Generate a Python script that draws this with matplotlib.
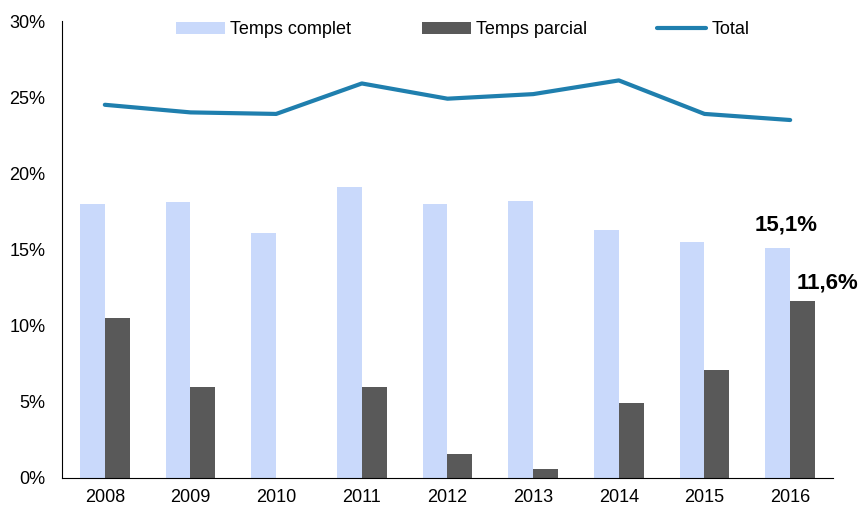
import matplotlib.pyplot as plt
import numpy as np
from matplotlib.ticker import FuncFormatter

plt.rcParams['font.family'] = ['Liberation Sans', 'DejaVu Sans']

years = ['2008', '2009', '2010', '2011', '2012', '2013', '2014', '2015', '2016']
complet = [18.0, 18.1, 16.1, 19.1, 18.0, 18.2, 16.3, 15.5, 15.1]
parcial = [10.5, 6.0, 0.0, 6.0, 1.6, 0.6, 4.9, 7.1, 11.6]
total = [24.5, 24.0, 23.9, 25.9, 24.9, 25.2, 26.1, 23.9, 23.5]

fig = plt.figure(figsize=(8.62, 5.07), dpi=100)
ax = fig.add_axes([62 / 862, 1 - 478 / 507, (833 - 62) / 862, (478 - 21) / 507])

x = np.arange(len(years))
w = 0.29
b1 = ax.bar(x - w / 2, complet, w, color='#c9d9fb', label='Temps complet')
b2 = ax.bar(x + w / 2, parcial, w, color='#595959', label='Temps parcial')
l1, = ax.plot(x, total, color='#1f7fae', lw=3, solid_capstyle='round', label='Total')

# etiquetas del ultimo año
ax.text(x[-1] - 0.05, complet[-1] + 1.5, '15,1%', ha='center', va='center',
        fontsize=16, fontweight='bold')
ax.text(x[-1] + 0.44, parcial[-1] + 1.2, '11,6%', ha='center', va='center',
        fontsize=16, fontweight='bold')

ax.set_xlim(-0.5, len(years) - 0.5)
ax.set_ylim(0, 30)
ax.set_yticks(range(0, 31, 5))
ax.yaxis.set_major_formatter(FuncFormatter(lambda v, p: f'{v:.0f}%'))
ax.set_xticks(x)
ax.set_xticklabels(years)
ax.tick_params(length=0, labelsize=13, pad=8)
ax.tick_params(axis='y', pad=12)
for s in ['top', 'right']:
    ax.spines[s].set_visible(False)

ax.legend(handles=[b1, b2, l1], loc='upper center', bbox_to_anchor=(0.52, 1.035),
          ncol=3, frameon=False, fontsize=13, handlelength=2.7,
          handletextpad=0.3, columnspacing=3.9)

plt.savefig('out.png', dpi=100)
plt.close()
